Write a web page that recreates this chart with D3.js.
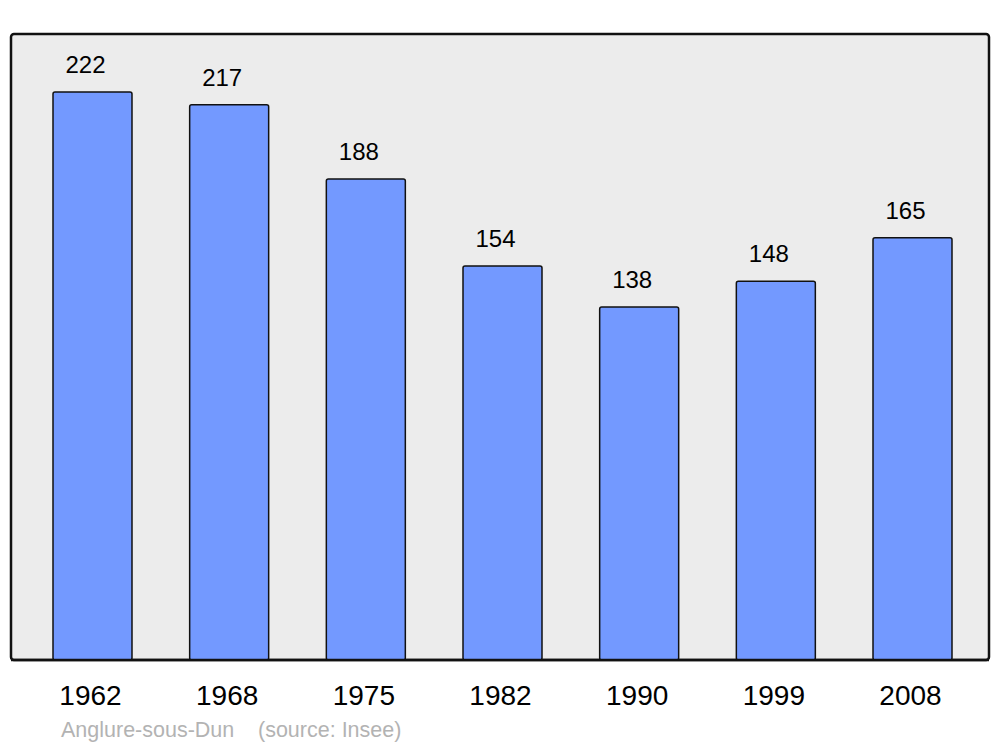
<!DOCTYPE html>
<html>
<head>
<meta charset="utf-8">
<script src="https://cdn.jsdelivr.net/npm/d3@7"></script>
<style>
html,body{margin:0;padding:0;background:#fff;}
svg{display:block;}
text{font-family:"Liberation Sans",Arial,sans-serif;}
</style>
</head>
<body>
<svg id="chart" width="1000" height="747"></svg>
<script>
const years = ["1962","1968","1975","1982","1990","1999","2008"];
const population = [222,217,188,154,138,148,165];
const placeName = "Anglure-sous-Dun";
const sourceLabel = "(source: Insee)";

const svg = d3.select("#chart");
const panel = {x0: 11, y0: 34, x1: 989, y1: 660};

svg.append("rect")
  .attr("x", panel.x0).attr("y", panel.y0)
  .attr("width", panel.x1 - panel.x0).attr("height", panel.y1 - panel.y0)
  .attr("rx", 3).attr("ry", 3)
  .attr("fill", "#ececec").attr("stroke", "#111").attr("stroke-width", 2.5);

const x = d3.scaleBand().domain(years).range([53, 952]).paddingInner(0.422).paddingOuter(0);
const y = d3.scaleLinear().domain([0, d3.max(population)]).range([660, 92]);

const data = years.map((yr, i) => ({year: yr, value: population[i]}));

svg.selectAll("rect.bar").data(data).enter().append("rect")
  .attr("class", "bar")
  .attr("x", d => x(d.year))
  .attr("y", d => y(d.value))
  .attr("width", x.bandwidth())
  .attr("height", d => y(0) - y(d.value))
  .attr("rx", 2).attr("ry", 2)
  .attr("fill", "#7399ff").attr("stroke", "#111").attr("stroke-width", 1.5);

svg.selectAll("text.val").data(data).enter().append("text")
  .attr("class", "val")
  .attr("x", d => x(d.year) + x.bandwidth() / 2 - 7)
  .attr("y", d => y(d.value) - 19)
  .attr("text-anchor", "middle")
  .attr("font-size", 24)
  .attr("fill", "#000")
  .text(d => d.value);

svg.append("line")
  .attr("x1", panel.x0).attr("x2", panel.x1)
  .attr("y1", panel.y1).attr("y2", panel.y1)
  .attr("stroke", "#111").attr("stroke-width", 2.5);

const xAxis = d3.axisBottom(x).tickSize(0).tickPadding(0);
const gx = svg.append("g").attr("transform", `translate(-2, ${panel.y1})`).call(xAxis);
gx.select(".domain").remove();
gx.selectAll("text")
  .attr("dy", null)
  .attr("y", 45)
  .attr("font-size", 28)
  .attr("font-family", '"Liberation Sans",Arial,sans-serif')
  .attr("fill", "#000");

svg.append("text")
  .attr("x", 61).attr("y", 737)
  .attr("font-size", 21.5).attr("fill", "#b3b3b3")
  .text(placeName);
svg.append("text")
  .attr("x", 258).attr("y", 737)
  .attr("font-size", 21.5).attr("fill", "#b3b3b3")
  .text(sourceLabel);
</script>
</body>
</html>
